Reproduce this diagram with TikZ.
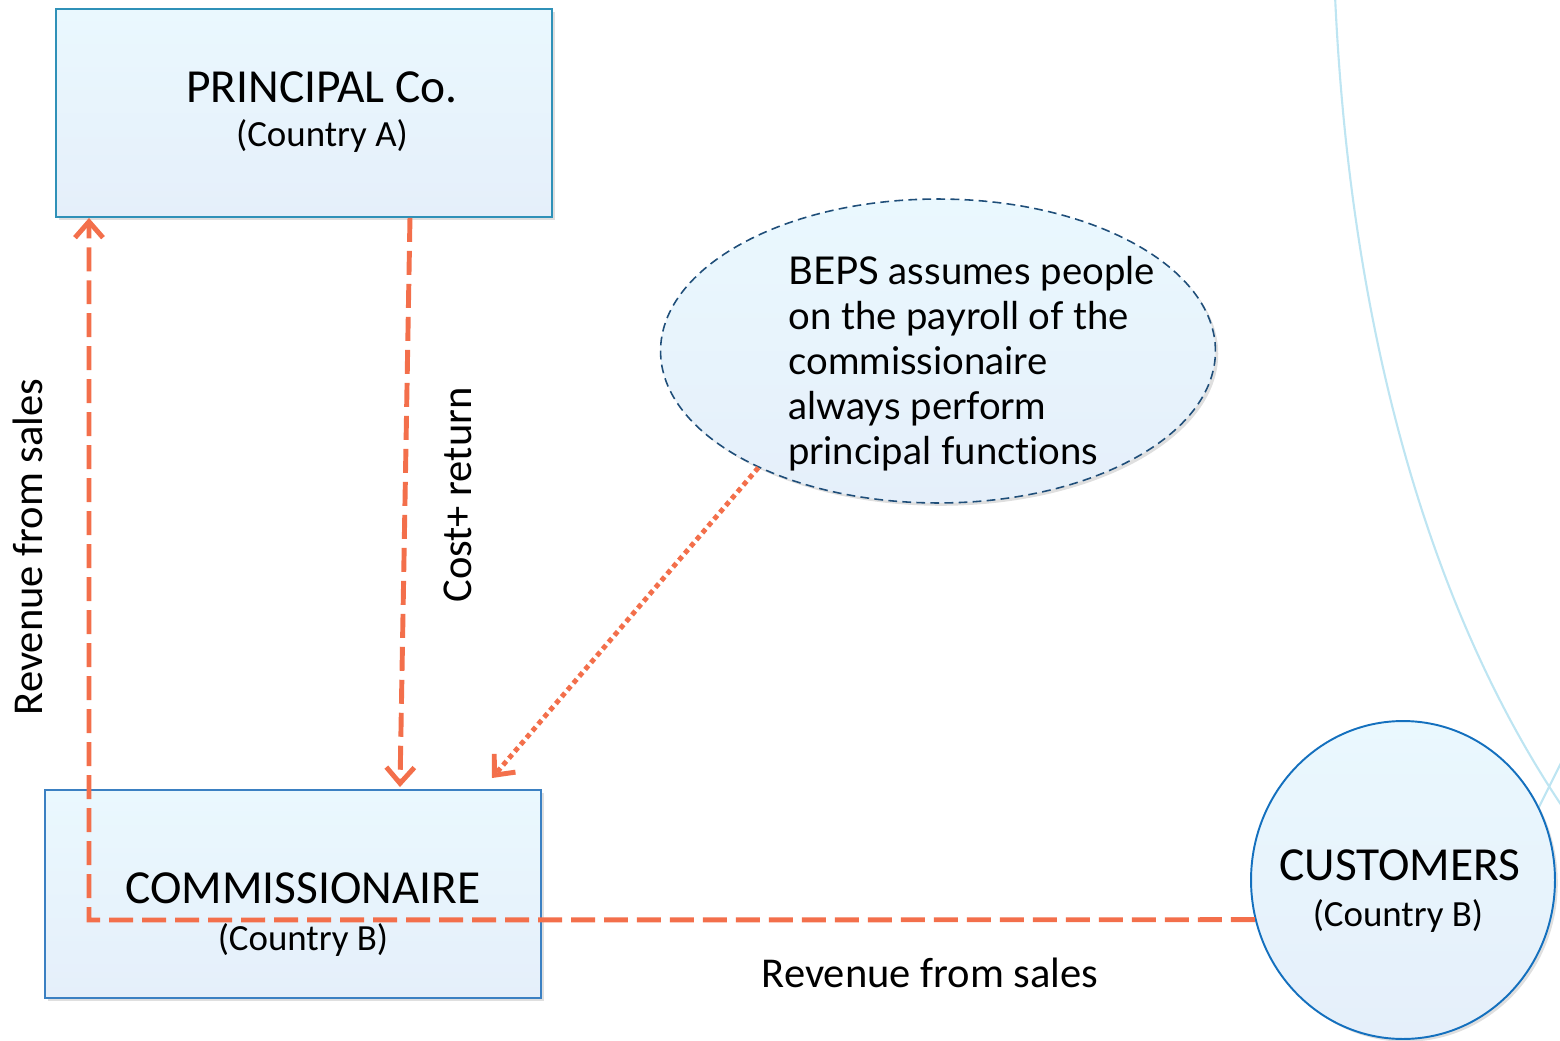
\documentclass[tikz,border=0pt]{standalone}
\usepackage{fontspec}
\setmainfont{Carlito}
\newfontfamily\bepsfont[Ligatures={NoCommon,NoRequired,NoContextual}]{Lato}
\usetikzlibrary{arrows.meta,shapes.geometric,shadows}
\definecolor{flowc}{HTML}{F36F4B}
\definecolor{boxtop}{HTML}{EAF8FE}
\definecolor{boxbot}{HTML}{E5EFFA}
\definecolor{pborder}{HTML}{2F91B8}
\definecolor{cborder}{HTML}{3B80C2}
\definecolor{custborder}{HTML}{1470BE}
\definecolor{bepsborder}{HTML}{1F4E79}
\definecolor{bgarc}{HTML}{BEE5F2}
\begin{document}
\begin{tikzpicture}[x=0.02cm,y=-0.02cm,
  shade/.style={drop shadow={shadow xshift=1.6pt,shadow yshift=-1.6pt,opacity=0.25}},
  box/.style={rectangle,minimum width=9.92cm,minimum height=4.16cm,
    top color=boxtop,bottom color=boxbot,line width=1.1pt,shade},
  title/.style={font=\fontsize{27}{31}\selectfont,inner sep=0pt},
  sub/.style={font=\fontsize{21}{25}\selectfont,inner sep=0pt},
  lbl/.style={font=\fontsize{24.2}{28}\selectfont,inner sep=0pt},
  flowline/.style={draw=flowc,line width=2.8pt,dash pattern=on 0.48cm off 0.18cm},
  dotline/.style={draw=flowc,line width=2.8pt,dash pattern=on 0.1cm off 0.08cm},
  tip/.style={-{Straight Barb[length=0.32cm,width=0.56cm]}}]
\useasboundingbox (0,0) rectangle (1560,1041);
% background arcs
\begin{scope}
\clip (0,0) rectangle (1560,1041);
\draw[bgarc,line width=1.2pt] (1335,-5) .. controls (1350,330) and (1430,620) .. (1575,825);
\draw[bgarc,line width=1.2pt] (1530,825) -- (1575,735);
\end{scope}
% boxes
\node[box,draw=pborder] (principal) at (304,113) {};
\node[box,draw=cborder] (comm) at (293,894) {};
\node[ellipse,minimum width=6.08cm,minimum height=6.36cm,inner sep=0pt,top color=boxtop,bottom color=boxbot,
  draw=custborder,line width=1.1pt,shade] (cust) at (1403,880) {};
\node[ellipse,minimum width=11.1cm,minimum height=6.08cm,top color=boxtop,bottom color=boxbot,
  draw=bepsborder,line width=0.9pt,dash pattern=on 5pt off 3pt,shade] (beps) at (938,351) {};
% texts
\node[title] (ptitle) at (322,87) {PRINCIPAL Co.};
\node[sub] (psub) at (322,136) {(Country A)};
\node[title] (ctitle) at (303,888) {COMMISSIONAIRE};
\node[sub] (csub) at (303,940) {(Country B)};
\node[title] (custtitle) at (1400,865) {CUSTOMERS};
\node[sub] (custsub) at (1398,916) {(Country B)};
\node[anchor=base west,align=left,inner sep=0pt,
  font=\bepsfont\fontsize{21.8}{25.5}\selectfont] (bepstext) at (788,464)
  {BEPS assumes people\\on the payroll of the\\commissionaire\\always perform\\principal functions};
\node[lbl,rotate=90] (revleft) at (28,547) {Revenue from sales};
\node[lbl,rotate=90] (costret) at (458,495) {Cost+ return};
\node[lbl] (revbottom) at (930,973) {Revenue from sales};
% connectors
\coordinate (corner) at (89,920);
\draw[flowline,tip] (cust.195.2) -- (corner) -- (principal.south -| corner);
\draw[flowline,tip] ([xshift=2.12cm]principal.south) -- ([xshift=2.14cm,yshift=0.04cm]comm.north);
\coordinate (dotend) at (492,778);
\draw[dotline,tip] (beps.213.8) -- (dotend);
\end{tikzpicture}
\end{document}
